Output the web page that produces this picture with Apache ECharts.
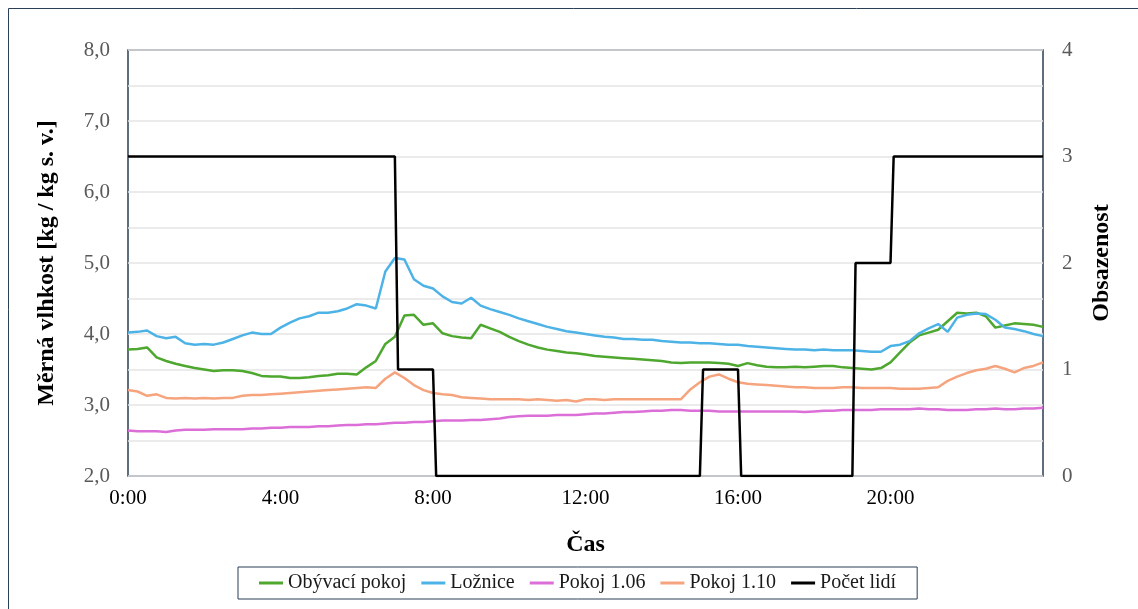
<!DOCTYPE html>
<html>
<head>
<meta charset="utf-8">
<script src="https://cdn.jsdelivr.net/npm/echarts@6/dist/echarts.min.js"></script>
<style>
  html, body { margin: 0; padding: 0; background: #fff; }
  #chart { width: 1138px; height: 609px; }
</style>
</head>
<body>
<div id="chart"></div>
<script>
// čas v hodinách, krok 15 minut (0:00 .. 24:00)
var times = [];
for (var i = 0; i <= 96; i++) times.push(i * 0.25);

var obyvaci = [
  3.78,3.79,3.81,3.67,3.62,3.58,3.55,3.52,3.50,3.48,3.49,3.49,3.48,3.45,3.41,3.40,
  3.40,3.38,3.38,3.39,3.41,3.42,3.44,3.44,3.43,3.53,3.62,3.86,3.96,4.26,4.27,4.13,
  4.15,4.01,3.97,3.95,3.94,4.13,4.08,4.03,3.96,3.90,3.85,3.81,3.78,3.76,3.74,3.73,
  3.71,3.69,3.68,3.67,3.66,3.65,3.64,3.63,3.62,3.60,3.59,3.60,3.60,3.60,3.59,3.58,
  3.55,3.59,3.56,3.54,3.53,3.53,3.54,3.53,3.54,3.55,3.55,3.53,3.52,3.51,3.50,3.52,
  3.60,3.74,3.88,3.98,4.02,4.06,4.18,4.30,4.29,4.30,4.25,4.09,4.12,4.15,4.14,4.13,
  4.10
];
var loznice = [
  4.02,4.03,4.05,3.97,3.94,3.96,3.87,3.85,3.86,3.85,3.88,3.93,3.98,4.02,4.00,4.00,
  4.09,4.16,4.22,4.25,4.30,4.30,4.32,4.36,4.42,4.40,4.36,4.88,5.07,5.05,4.77,4.68,
  4.64,4.53,4.45,4.43,4.51,4.40,4.35,4.31,4.27,4.22,4.18,4.14,4.10,4.07,4.04,4.02,
  4.00,3.98,3.96,3.95,3.93,3.93,3.92,3.92,3.90,3.89,3.88,3.88,3.87,3.87,3.86,3.85,
  3.85,3.83,3.82,3.81,3.80,3.79,3.78,3.78,3.77,3.78,3.77,3.77,3.77,3.76,3.75,3.75,
  3.83,3.85,3.90,4.01,4.08,4.14,4.03,4.23,4.27,4.29,4.28,4.20,4.09,4.07,4.04,4.00,
  3.97
];
var pokoj106 = [
  2.64,2.63,2.63,2.63,2.62,2.64,2.65,2.65,2.65,2.66,2.66,2.66,2.66,2.67,2.67,2.68,
  2.68,2.69,2.69,2.69,2.70,2.70,2.71,2.72,2.72,2.73,2.73,2.74,2.75,2.75,2.76,2.76,
  2.77,2.78,2.78,2.78,2.79,2.79,2.80,2.81,2.83,2.84,2.85,2.85,2.85,2.86,2.86,2.86,
  2.87,2.88,2.88,2.89,2.90,2.90,2.91,2.92,2.92,2.93,2.93,2.92,2.92,2.92,2.91,2.91,
  2.91,2.91,2.91,2.91,2.91,2.91,2.91,2.90,2.91,2.92,2.92,2.93,2.93,2.93,2.93,2.94,
  2.94,2.94,2.94,2.95,2.94,2.94,2.93,2.93,2.93,2.94,2.94,2.95,2.94,2.94,2.95,2.95,
  2.96
];
var pokoj110 = [
  3.21,3.19,3.13,3.15,3.10,3.09,3.10,3.09,3.10,3.09,3.10,3.10,3.13,3.14,3.14,3.15,
  3.16,3.17,3.18,3.19,3.20,3.21,3.22,3.23,3.24,3.25,3.24,3.37,3.46,3.38,3.28,3.21,
  3.17,3.15,3.14,3.11,3.10,3.09,3.08,3.08,3.08,3.08,3.07,3.08,3.07,3.06,3.07,3.05,
  3.08,3.08,3.07,3.08,3.08,3.08,3.08,3.08,3.08,3.08,3.08,3.22,3.32,3.40,3.43,3.37,
  3.32,3.30,3.29,3.28,3.27,3.26,3.25,3.25,3.24,3.24,3.24,3.25,3.25,3.24,3.24,3.24,
  3.24,3.23,3.23,3.23,3.24,3.25,3.34,3.40,3.45,3.49,3.51,3.55,3.51,3.46,3.52,3.55,
  3.60
];
// počet lidí - zlomové body schodů
var osobyCas = [0, 7, 7.083, 8, 8.083, 15, 15.083, 16, 16.083, 19, 19.083, 20, 20.083, 24];
var osobyPocet = [3, 3, 1, 1, 0, 0, 1, 1, 0, 0, 2, 2, 3, 3];

function pary(t, v) {
  return t.map(function (x, k) { return [x, v[k]]; });
}

var serif = '"Liberation Serif", "Times New Roman", serif';
var ramec = '#2b3f55';

var myChart = echarts.init(document.getElementById('chart'));

var option = {
  animation: false,
  backgroundColor: '#fff',
  textStyle: { fontFamily: serif },
  graphic: [{
    type: 'rect',
    shape: { x: 8.5, y: 8.5, width: 1200, height: 700 },
    style: { fill: 'none', stroke: ramec, lineWidth: 1 }
  }],
  grid: {
    left: 128, right: 95, top: 50, bottom: 133,
    show: true, borderColor: ramec, borderWidth: 1.5, backgroundColor: 'transparent'
  },
  legend: {
    left: 238, top: 567,
    padding: [6, 21],
    borderColor: ramec, borderWidth: 1,
    itemWidth: 24, itemHeight: 3, itemGap: 15, itemTextGap: 1,
    icon: 'rect',
    textStyle: { fontFamily: serif, fontSize: 20, color: '#1a1a1a' },
    data: ['Obývací pokoj', 'Ložnice', 'Pokoj 1.06', 'Pokoj 1.10', 'Počet lidí']
  },
  xAxis: {
    type: 'value', min: 0, max: 24, interval: 4,
    name: 'Čas', nameLocation: 'middle', nameGap: 57,
    nameTextStyle: { fontFamily: serif, fontSize: 24, fontWeight: 'bold', color: '#000' },
    axisLine: { show: false }, axisTick: { show: false }, splitLine: { show: false },
    axisLabel: {
      margin: 12, fontFamily: serif, fontSize: 21, color: '#000',
      formatter: function (v) { return v === 24 ? '' : v + ':00'; }
    }
  },
  yAxis: [{
    type: 'value', min: 2, max: 8, interval: 0.5,
    name: 'Měrná vlhkost [kg / kg s. v.]', nameLocation: 'middle', nameGap: 69, nameRotate: 90,
    nameTextStyle: { fontFamily: serif, fontSize: 24, fontWeight: 'bold', color: '#000' },
    axisLine: { show: false }, axisTick: { show: false },
    splitLine: { lineStyle: { color: '#e4e4e4', width: 1.5 } },
    axisLabel: {
      margin: 18, fontFamily: serif, fontSize: 21, color: '#595959',
      formatter: function (v) { return Number.isInteger(v) ? v.toFixed(1).replace('.', ',') : ''; }
    }
  }, {
    type: 'value', min: 0, max: 4, interval: 1, position: 'right',
    name: 'Obsazenost', nameLocation: 'middle', nameGap: 47, nameRotate: 90,
    nameTextStyle: { fontFamily: serif, fontSize: 24, fontWeight: 'bold', color: '#000' },
    axisLine: { show: false }, axisTick: { show: false }, splitLine: { show: false },
    axisLabel: { margin: 19, fontFamily: serif, fontSize: 21, color: '#595959' }
  }],
  series: [
    { name: 'Obývací pokoj', type: 'line', data: pary(times, obyvaci), showSymbol: false,
      color: '#4ea72e', lineStyle: { width: 2.5 } },
    { name: 'Ložnice', type: 'line', data: pary(times, loznice), showSymbol: false,
      color: '#4db3e6', lineStyle: { width: 2.5 } },
    { name: 'Pokoj 1.06', type: 'line', data: pary(times, pokoj106), showSymbol: false,
      color: '#dc6ed8', lineStyle: { width: 2.5 } },
    { name: 'Pokoj 1.10', type: 'line', data: pary(times, pokoj110), showSymbol: false,
      color: '#f5a47e', lineStyle: { width: 2.5 } },
    { name: 'Počet lidí', type: 'line', yAxisIndex: 1, data: pary(osobyCas, osobyPocet), showSymbol: false,
      color: '#000', lineStyle: { width: 2.5 } }
  ]
};

myChart.setOption(option);
</script>
</body>
</html>
